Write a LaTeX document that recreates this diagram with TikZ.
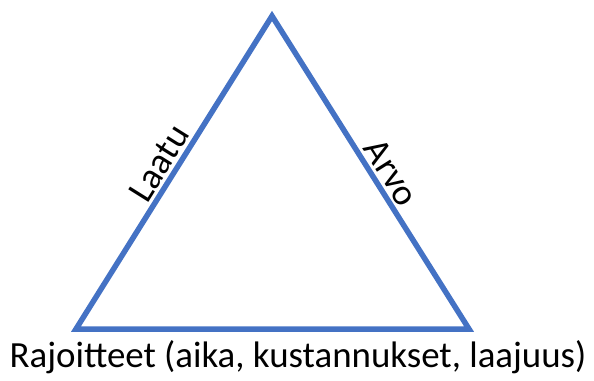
\documentclass[tikz,border=0pt]{standalone}
\usepackage{fontspec}
\setmainfont{Carlito}
\usepackage{xcolor}
\usetikzlibrary{positioning, calc}
\definecolor{edgeblue}{HTML}{4472C4}
\definecolor{textblack}{HTML}{000000}

\begin{document}
\begin{tikzpicture}[
  x=0.02cm, y=-0.02cm,
  side/.style={draw=edgeblue, line width=5.5*0.02cm, line join=miter},
  label/.style={font=\fontsize{21}{25}\selectfont, text=textblack, inner sep=3pt},
]
  \useasboundingbox (0,0) rectangle (594,381);
  \coordinate (apex) at (272,16);
  \coordinate (bl) at (76,329);
  \coordinate (br) at (469,329);
  \draw[side] (bl) -- (apex) -- (br) -- cycle;
  \path (bl) -- (apex) node[label, pos=0.50, sloped, above] (laatu) {Laatu};
  \path (apex) -- (br) node[label, pos=0.53, sloped, above] (arvo) {Arvo};
  \node[label, anchor=base] (rajoitteet) at (298,367)
    {Rajoitteet (aika, kustannukset, laajuus)};
\end{tikzpicture}
\end{document}
